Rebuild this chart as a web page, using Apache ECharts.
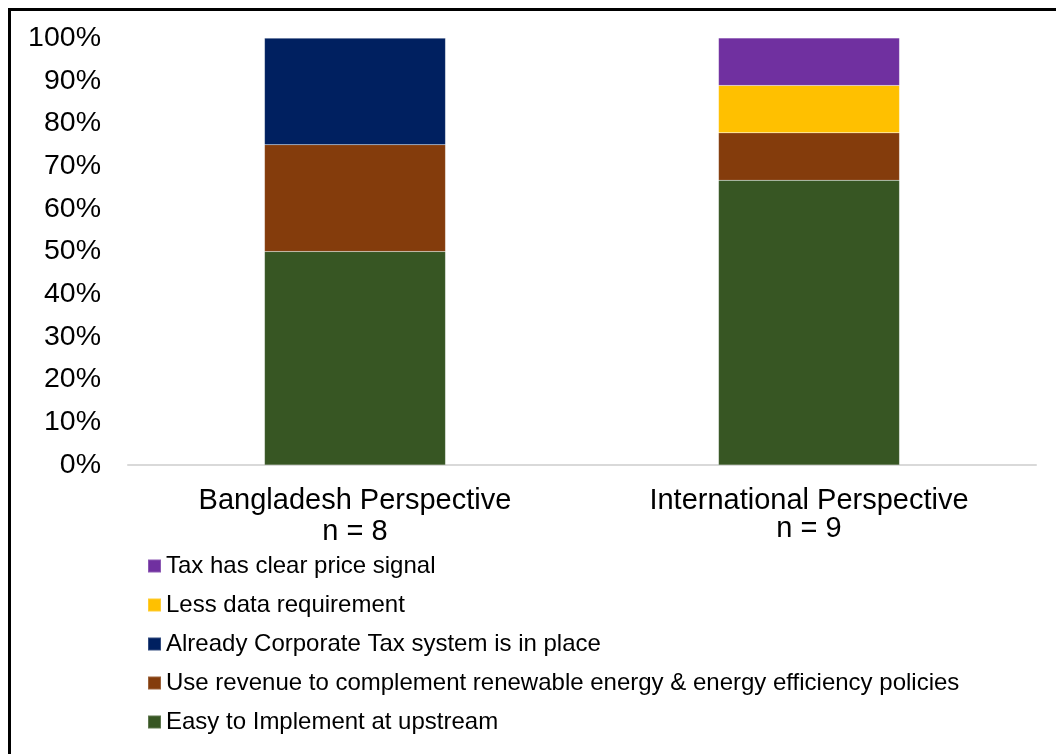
<!DOCTYPE html>
<html>
<head>
<meta charset="utf-8">
<script src="https://cdn.jsdelivr.net/npm/echarts@6/dist/echarts.min.js"></script>
<style>
  html, body { margin: 0; padding: 0; background: #fff; }
  #chart { width: 1056px; height: 754px; }
</style>
</head>
<body>
<div id="chart"></div>
<script>
// Survey responses, shares of respondents (%) per perspective
const categories = ['Bangladesh Perspective', 'International Perspective'];
const sampleSizes = ['n = 8', 'n = 9'];
const easyUpstream = [50, 66.7];
const useRevenue = [25, 11.1];
const corporateTax = [25, 0];
const lessData = [0, 11.1];
const priceSignal = [0, 11.1];
const yTicks = [0, 10, 20, 30, 40, 50, 60, 70, 80, 90, 100];

const seriesDefs = [
  { name: 'Easy to Implement at upstream', data: easyUpstream, color: '#375623' },
  { name: 'Use revenue to complement renewable energy & energy efficiency policies', data: useRevenue, color: '#843C0C' },
  { name: 'Already Corporate Tax system is in place', data: corporateTax, color: '#002060' },
  { name: 'Less data requirement', data: lessData, color: '#FFC000' },
  { name: 'Tax has clear price signal', data: priceSignal, color: '#7030A0' }
];

const FONT = '"Liberation Sans", Arial, sans-serif';
const chart = echarts.init(document.getElementById('chart'), null, { renderer: 'canvas' });

chart.setOption({
  animation: false,
  backgroundColor: '#fff',
  textStyle: { fontFamily: FONT, color: '#000' },
  graphic: [{
    type: 'rect',
    shape: { x: 9.5, y: 9.5, width: 1200, height: 900 },
    style: { fill: 'none', stroke: '#000', lineWidth: 3 },
    z: 100
  }],
  grid: { left: 128, right: 20, top: 38, bottom: 289, containLabel: false },
  legend: {
    type: 'plain',
    orient: 'vertical',
    left: 142,
    top: 549,
    height: 220,
    itemWidth: 13,
    itemHeight: 13,
    itemGap: 15,
    icon: 'rect',
    textStyle: { fontFamily: FONT, fontSize: 24, lineHeight: 24, color: '#000', padding: [0, 0, 0, 0] },
    data: seriesDefs.map(s => s.name).reverse()
  },
  xAxis: {
    type: 'category',
    data: categories,
    axisLine: { lineStyle: { color: '#d9d9d9', width: 2 } },
    axisTick: { show: false },
    axisLabel: {
      margin: 20,
      interval: 0,
      formatter: (value, idx) => '{t|' + value + '}\n{n' + idx + '|' + sampleSizes[idx] + '}',
      rich: {
        t: { fontFamily: FONT, fontSize: 29, lineHeight: 31, color: '#000' },
        n0: { fontFamily: FONT, fontSize: 29, lineHeight: 31, color: '#000' },
        n1: { fontFamily: FONT, fontSize: 29, lineHeight: 25, color: '#000' }
      }
    }
  },
  yAxis: {
    type: 'value',
    min: 0,
    max: 100,
    interval: 10,
    axisLine: { show: false },
    axisTick: { show: false },
    splitLine: { show: false },
    axisLabel: {
      margin: 27,
      fontFamily: FONT,
      fontSize: 28.5,
      color: '#000',
      formatter: v => (yTicks.includes(v) ? v + '%' : '')
    }
  },
  series: seriesDefs.map(s => ({
    name: s.name,
    type: 'bar',
    stack: 'total',
    barWidth: 181,
    data: s.data,
    itemStyle: { color: s.color, borderColor: 'rgba(255,255,255,0.2)', borderWidth: 0.5 }
  }))
});
</script>
</body>
</html>
